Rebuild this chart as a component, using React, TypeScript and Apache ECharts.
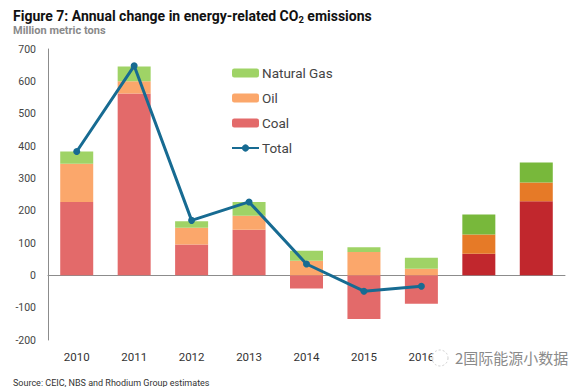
import React, { useEffect, useRef } from "react";
import * as echarts from "echarts";

const categories = ["2010", "2011", "2012", "2013", "2014", "2015", "2016", "2017", "2018"];
const shownLabels = ["2010", "2011", "2012", "2013", "2014", "2015", "2016"];
const coal = [227, 562, 95, 141, -41, -135, -88, 67, 229];
const oil = [118, 38, 52, 43, 45, 72, 20, 59, 58];
const gas = [38, 46, 20, 43, 31, 15, 34, 62, 62];
const total = [383, 648, 170, 227, 35, -49, -34, null, null];
const yTicks = [-200, -100, 0, 100, 200, 300, 400, 500, 600, 700];

const LIGHT = { gas: "#9fd366", oil: "#fba76b", coal: "#e36a6a" };
const DARK = { gas: "#78b83b", oil: "#e67a27", coal: "#c1272d" };
const FONT = "'Liberation Sans Narrow', 'Roboto', 'Liberation Sans', sans-serif";

function withDark(values: number[], dark: string) {
  return values.map((v, i) => (i >= 7 ? { value: v, itemStyle: { color: dark } } : v));
}

export default function App() {
  const ref = useRef<HTMLDivElement>(null);
  useEffect(() => {
    if (!ref.current) return;
    const chart = echarts.init(ref.current, null, { renderer: "svg" });
    chart.setOption({
      animation: false,
      backgroundColor: "#ffffff",
      textStyle: { fontFamily: FONT },
      title: [
        {
          text: "{t|Figure 7: Annual change in energy-related CO}{s|2}{t| emissions}",
          left: 8,
          top: 3,
          textStyle: {
            rich: {
              t: { fontFamily: FONT, fontWeight: "bold", fontSize: 14, color: "#111" },
              s: { fontFamily: FONT, fontWeight: "bold", fontSize: 9.5, color: "#111", verticalAlign: "bottom", padding: [6, 0, 0, 0] },
            },
          },
        },
        {
          text: "Million metric tons",
          left: 8,
          top: 20,
          textStyle: { fontFamily: FONT, fontWeight: "bold", fontSize: 11, color: "#8a8a8a" },
        },
        {
          text: "Source: CEIC, NBS and Rhodium Group estimates",
          left: 8,
          top: 373,
          textStyle: { fontFamily: FONT, fontWeight: "normal", fontSize: 9, color: "#333" },
        },
      ],
      legend: {
        orient: "vertical",
        left: 226,
        top: 61,
        itemWidth: 27,
        itemHeight: 9,
        itemGap: 11,
        data: [
          { name: "Natural Gas", itemStyle: { color: LIGHT.gas } },
          { name: "Oil", itemStyle: { color: LIGHT.oil } },
          { name: "Coal", itemStyle: { color: LIGHT.coal } },
          { name: "Total" },
        ],
        textStyle: { fontFamily: FONT, fontSize: 13.5, color: "#444", padding: [0, 0, 0, -2] },
      },
      grid: { left: 48, right: 11, top: 49, bottom: 47 },
      xAxis: {
        type: "category",
        data: categories,
        axisLine: { show: true, onZero: true, lineStyle: { color: "#8c8c8c", width: 1 } },
        axisTick: { show: false },
        axisLabel: { show: false },
      },
      yAxis: {
        type: "value",
        min: -200,
        max: 700,
        interval: 100,
        axisLine: { show: true, lineStyle: { color: "#8c8c8c", width: 1 } },
        axisTick: { show: false },
        splitLine: { show: false },
        axisLabel: {
          margin: 12,
          fontFamily: FONT,
          fontSize: 10.5,
          color: "#444",
          formatter: (v: number) => (yTicks.includes(v) ? String(v) : ""),
        },
      },
      graphic: [
        ...shownLabels.map((c, i) => ({
          type: "text",
          x: 48 + (517 / 9) * (i + 0.5),
          y: 357,
          style: {
            text: c,
            fill: "#333",
            font: `11.5px ${FONT}`,
            align: "center",
            verticalAlign: "middle",
          },
          z: 10,
        })),
        {
          type: "circle",
          shape: { cx: 440, cy: 358, r: 8 },
          style: { fill: "rgba(255,255,255,0.85)", stroke: "#cfcfcf", lineWidth: 1, lineDash: [2, 2] },
          z: 20,
        },
        {
          type: "text",
          x: 455,
          y: 357,
          style: {
            text: "2国际能源小数据",
            fill: "#8a8a8a",
            font: "15px 'Noto Sans CJK SC', sans-serif",
            align: "left",
            verticalAlign: "middle",
          },
          z: 21,
        },
      ],
      series: [
        {
          name: "Coal",
          type: "bar",
          stack: "s",
          barWidth: 33,
          itemStyle: { color: LIGHT.coal },
          data: withDark(coal, DARK.coal),
        },
        {
          name: "Oil",
          type: "bar",
          stack: "s",
          barWidth: 33,
          itemStyle: { color: LIGHT.oil },
          data: withDark(oil, DARK.oil),
        },
        {
          name: "Natural Gas",
          type: "bar",
          stack: "s",
          barWidth: 33,
          itemStyle: { color: LIGHT.gas },
          data: withDark(gas, DARK.gas),
        },
        {
          name: "Total",
          type: "line",
          data: total,
          symbol: "circle",
          symbolSize: 7,
          showSymbol: true,
          lineStyle: { color: "#176b92", width: 3 },
          itemStyle: { color: "#176b92" },
          z: 5,
        },
      ],
    });
    return () => chart.dispose();
  }, []);
  return <div ref={ref} style={{ width: 576, height: 387, position: "absolute", left: 0, top: 0 }} />;
}
